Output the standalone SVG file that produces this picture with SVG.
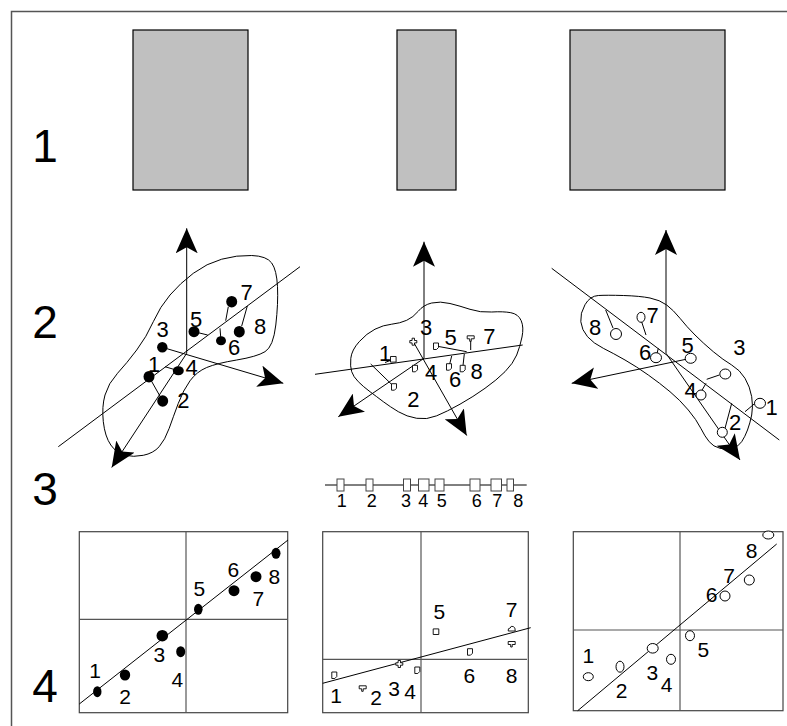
<svg xmlns="http://www.w3.org/2000/svg" width="787" height="726" viewBox="0 0 787 726">
  <style>
    .lbl { font-family: "Liberation Sans", Arial, sans-serif; fill: #000; text-anchor: middle; }
    .row { font-size: 46px; }
    .n2 { font-size: 22px; }
    .n3 { font-size: 18px; }
    .n4 { font-size: 21px; }
    .frame { fill: none; stroke: #555; stroke-width: 1.5; }
    .bar { fill: #c0c0c0; stroke: #000; stroke-width: 1.2; }
    .thin { fill: none; stroke: #000; stroke-width: 1; }
    .axis { fill: none; stroke: #000; stroke-width: 1; marker-end: url(#arr); }
    .blob { fill: none; stroke: #000; stroke-width: 1; }
    .dot { fill: #000; stroke: none; }
    .ring { fill: #fff; stroke: #000; stroke-width: 1; }
    .mk { fill: #fff; stroke: #000; stroke-width: 0.9; }
    .panel { fill: none; stroke: #444; stroke-width: 1.2; }
    .quad { fill: none; stroke: #555; stroke-width: 1.2; }
    .box { fill: #fff; stroke: #444; stroke-width: 1; }
  </style>
  <defs>
    <marker id="arr" viewBox="0 0 25 22" refX="25" refY="11" markerWidth="25" markerHeight="22" markerUnits="userSpaceOnUse" orient="auto">
      <path d="M25,11 L0,0 L6,11 L0,22 Z" fill="#000"/>
    </marker>
    <!-- small outline glyphs used as point symbols in the middle column -->
    <path id="doc" class="mk" d="M-2.5,-3 H2.5 V1.5 L0.5,3.5 H-2.5 Z"/>
    <path id="sq" class="mk" d="M-2.8,-2.8 H2.8 V2.8 H-2.8 Z"/>
    <path id="plus" class="mk" d="M-1.2,-3.5 H1.2 V-1.2 H3.5 V1.2 H1.2 V3.5 H-1.2 V1.2 H-3.5 V-1.2 H-1.2 Z"/>
    <path id="cloud" class="mk" d="M-3.5,2 Q-4,-1 -1.5,-1 Q-1,-3.5 1.5,-2.5 Q4,-1.5 3.5,2 Z"/>
    <path id="flag" class="mk" d="M-3.5,-2.5 H3.5 V0.5 H0.5 V3 H-1 V0.5 H-3.5 Z"/>
  </defs>

  <!-- outer frame -->
  <rect class="frame" x="11.5" y="11.5" width="800" height="740"/>

  <!-- row numbers -->
  <g id="row-labels">
    <text class="lbl row" x="45" y="162">1</text>
    <text class="lbl row" x="45" y="338">2</text>
    <text class="lbl row" x="45" y="505">3</text>
    <text class="lbl row" x="45" y="702">4</text>
  </g>

  <!-- row 1: grey bars -->
  <g id="bar-left"><rect class="bar" x="133" y="30" width="115" height="160"/></g>
  <g id="bar-middle"><rect class="bar" x="397" y="30" width="59" height="160"/></g>
  <g id="bar-right"><rect class="bar" x="570" y="30" width="155" height="160"/></g>

  <!-- row 2, left cloud of filled points -->
  <g id="cloud-left">
    <path class="blob" d="M221.7,259.2 Q236.7,255 251.7,255.5 Q266.7,256 271.7,263 Q276.7,270 277.5,286.7 Q278.3,303.3 275.8,325 Q273.3,346.7 265,351.7 Q256.7,356.7 236.7,360 Q216.7,363.3 206.7,367.5 Q196.7,371.7 190,380.8 Q183.3,390 178.3,403.3 Q173.3,416.7 169.2,428.3 Q165,440 159.2,446.7 Q153.3,453.3 143.3,455.3 Q133.3,457.3 125,455.3 Q116.7,453.3 110.8,445 Q105,436.7 103.3,421.7 Q101.7,406.7 105,395 Q108.3,383.3 117.5,373.3 Q126.7,363.3 136.7,350 Q146.7,336.7 153.3,321.7 Q160,306.7 170,295 Q180,283.3 193.3,273.3 Q206.7,263.3 221.7,259.2 Z"/>
    <g class="connectors">
      <line class="thin" x1="58.3" y1="446.7" x2="300" y2="266.7"/>
      <line class="axis" x1="186.7" y1="353.3" x2="186.7" y2="228.3"/>
      <line class="axis" x1="162.3" y1="347.3" x2="283.3" y2="383.3"/>
      <line class="axis" x1="186.7" y1="353.3" x2="111.7" y2="467.5"/>
      <line class="thin" x1="228.3" y1="306.7" x2="225.7" y2="320.7"/>
      <line class="thin" x1="241.7" y1="326" x2="247.3" y2="306"/>
      <line class="thin" x1="194" y1="331.7" x2="207.7" y2="335"/>
      <line class="thin" x1="221" y1="340.7" x2="220" y2="328.3"/>
      <line class="thin" x1="178.3" y1="370.7" x2="165" y2="366.7"/>
      <line class="thin" x1="149" y1="376.7" x2="162.7" y2="401"/>
    </g>
    <ellipse class="dot" cx="231.7" cy="301.7" rx="5.5" ry="5.8"/>
    <ellipse class="dot" cx="194" cy="331.7" rx="5.5" ry="5.5"/>
    <ellipse class="dot" cx="239.3" cy="331.7" rx="5.5" ry="5.8"/>
    <ellipse class="dot" cx="221" cy="340.7" rx="5" ry="4.5"/>
    <ellipse class="dot" cx="162.3" cy="347.3" rx="5.2" ry="5.2"/>
    <ellipse class="dot" cx="178.3" cy="370.7" rx="5.5" ry="4.5"/>
    <ellipse class="dot" cx="149" cy="376.7" rx="5.5" ry="5.8"/>
    <ellipse class="dot" cx="162.7" cy="401" rx="5.5" ry="5.8"/>
    <text class="lbl n2" x="246.7" y="300">7</text>
    <text class="lbl n2" x="196" y="326.7">5</text>
    <text class="lbl n2" x="260" y="334">8</text>
    <text class="lbl n2" x="234" y="355">6</text>
    <text class="lbl n2" x="162.7" y="336.7">3</text>
    <text class="lbl n2" x="154" y="371.7">1</text>
    <text class="lbl n2" x="191.7" y="375">4</text>
    <text class="lbl n2" x="183.3" y="408.3">2</text>
  </g>

  <!-- row 2, middle cloud of symbol points -->
  <g id="cloud-middle">
    <path class="blob" d="M351.7,371.7 Q350,366.7 350.8,358.3 Q351.7,350 359.2,341.7 Q366.7,333.3 375,329.2 Q383.3,325 391.7,324.2 Q400,323.3 406.7,320.3 Q413.3,317.3 418.3,311.2 Q423.3,305 431.7,303 Q440,301 450,303.5 Q460,306 470,309.3 Q480,312.7 491.7,312 Q503.3,311.3 510.8,312.7 Q518.3,314 521.2,320.7 Q524,327.3 522,337 Q520,346.7 516.7,355 Q513.3,363.3 505,371.7 Q496.7,380 485,388.3 Q473.3,396.7 460,404.2 Q446.7,411.7 436.7,415.8 Q426.7,420 416.7,418.3 Q406.7,416.7 398.3,411.7 Q390,406.7 383.3,401.7 Q376.7,396.7 370,391.7 Q363.3,386.7 358.3,381.7 Q353.3,376.7 351.7,371.7 Z"/>
    <g class="connectors">
      <line class="thin" x1="315" y1="374.3" x2="522.7" y2="345"/>
      <line class="axis" x1="424" y1="358.3" x2="424" y2="241.7"/>
      <line class="axis" x1="413.3" y1="341.7" x2="466.7" y2="435.5"/>
      <line class="axis" x1="424" y1="358.3" x2="338.3" y2="416.7"/>
      <line class="thin" x1="394" y1="386.7" x2="370.7" y2="364"/>
      <line class="thin" x1="393.3" y1="359.3" x2="385" y2="362.5"/>
      <line class="thin" x1="436" y1="346" x2="466.7" y2="351.7"/>
      <line class="thin" x1="470.7" y1="338.3" x2="470.7" y2="350"/>
      <line class="thin" x1="449" y1="366.7" x2="451.7" y2="356"/>
      <line class="thin" x1="462.7" y1="368.3" x2="464.3" y2="354"/>
    </g>
    <use href="#sq" x="393.3" y="359.3"/>
    <use href="#plus" x="413.3" y="341.7"/>
    <use href="#doc" x="436" y="346"/>
    <use href="#flag" x="470.7" y="338.3"/>
    <use href="#doc" x="415" y="368.3"/>
    <use href="#doc" x="394" y="386.7"/>
    <use href="#doc" x="449" y="366.7"/>
    <use href="#doc" x="462.7" y="368.3"/>
    <text class="lbl n2" x="426" y="335">3</text>
    <text class="lbl n2" x="450.7" y="345">5</text>
    <text class="lbl n2" x="489.3" y="344">7</text>
    <text class="lbl n2" x="385" y="360.7">1</text>
    <text class="lbl n2" x="431" y="380">4</text>
    <text class="lbl n2" x="455" y="387.3">6</text>
    <text class="lbl n2" x="476.7" y="379.3">8</text>
    <text class="lbl n2" x="413.3" y="406.7">2</text>
  </g>

  <!-- row 2, right cloud of open points -->
  <g id="cloud-right">
    <path class="blob" d="M580.8,321.7 Q580,313.3 585,304.7 Q590,296 598.3,295.5 Q606.7,295 623.3,295.5 Q640,296 650,298 Q660,300 666.7,305 Q673.3,310 680,318.3 Q686.7,326.7 695,335 Q703.3,343.3 713.3,351.7 Q723.3,360 731.7,365 Q740,370 745,378.3 Q750,386.7 751.7,396.7 Q753.3,406.7 751.7,415 Q750,423.3 747.5,430 Q745,436.7 741.7,441.7 Q738.3,446.7 732.5,448.3 Q726.7,450 720,448.3 Q713.3,446.7 709.2,441.7 Q705,436.7 700.8,428.3 Q696.7,420 688.3,410 Q680,400 670,391.7 Q660,383.3 648.3,375 Q636.7,366.7 625,360 Q613.3,353.3 603.3,348.3 Q593.3,343.3 587.5,336.7 Q581.7,330 580.8,321.7 Z"/>
    <g class="connectors">
      <line class="thin" x1="551.7" y1="268.3" x2="779.3" y2="440"/>
      <line class="axis" x1="666" y1="353.3" x2="666" y2="230"/>
      <line class="axis" x1="690.7" y1="358.3" x2="571.7" y2="383.3"/>
      <line class="axis" x1="666" y1="353.3" x2="740" y2="460"/>
      <line class="thin" x1="613" y1="328" x2="605.7" y2="310"/>
      <line class="thin" x1="641.7" y1="322" x2="646" y2="335"/>
      <line class="thin" x1="656" y1="357.7" x2="658.3" y2="348.3"/>
      <line class="thin" x1="719.3" y1="375" x2="706.7" y2="379.3"/>
      <line class="thin" x1="701.7" y1="390.7" x2="706" y2="383.3"/>
      <line class="thin" x1="755" y1="403.3" x2="745" y2="411.7"/>
      <line class="thin" x1="725" y1="428.3" x2="731.7" y2="403.3"/>
    </g>
    <ellipse class="ring" cx="616" cy="334" rx="5.5" ry="5.5"/>
    <ellipse class="ring" cx="641" cy="317.3" rx="4" ry="5"/>
    <ellipse class="ring" cx="656" cy="357.7" rx="5.5" ry="5"/>
    <ellipse class="ring" cx="690.7" cy="358.3" rx="5.5" ry="5"/>
    <ellipse class="ring" cx="725.3" cy="374" rx="5.5" ry="5"/>
    <ellipse class="ring" cx="701" cy="395" rx="5" ry="5"/>
    <ellipse class="ring" cx="760" cy="403.3" rx="5.5" ry="5"/>
    <ellipse class="ring" cx="722.3" cy="432.3" rx="5" ry="5"/>
    <text class="lbl n2" x="595" y="335">8</text>
    <text class="lbl n2" x="652.7" y="323.3">7</text>
    <text class="lbl n2" x="645" y="360">6</text>
    <text class="lbl n2" x="687.7" y="353.3">5</text>
    <text class="lbl n2" x="739.3" y="355">3</text>
    <text class="lbl n2" x="690.7" y="398.3">4</text>
    <text class="lbl n2" x="771.7" y="415">1</text>
    <text class="lbl n2" x="735" y="430">2</text>
  </g>

  <!-- row 3: ordering strip -->
  <g id="strip">
    <line class="thin" x1="325" y1="485" x2="526.7" y2="485" stroke="#444"/>
    <rect class="box" x="337" y="479" width="7" height="12"/>
    <rect class="box" x="366" y="479" width="7" height="12"/>
    <rect class="box" x="403.5" y="479" width="7" height="12"/>
    <rect class="box" x="418.5" y="479" width="10.5" height="12"/>
    <rect class="box" x="435" y="479" width="9" height="12"/>
    <rect class="box" x="470" y="479" width="10" height="12"/>
    <rect class="box" x="491" y="479" width="10.5" height="12"/>
    <rect class="box" x="507" y="479" width="6.5" height="12"/>
    <text class="lbl n3" x="341.7" y="506.7">1</text>
    <text class="lbl n3" x="371.7" y="506.7">2</text>
    <text class="lbl n3" x="406" y="506.7">3</text>
    <text class="lbl n3" x="423.3" y="506.7">4</text>
    <text class="lbl n3" x="441.7" y="506.7">5</text>
    <text class="lbl n3" x="476.7" y="506.7">6</text>
    <text class="lbl n3" x="497.3" y="506.7">7</text>
    <text class="lbl n3" x="518.3" y="506.7">8</text>
  </g>

  <!-- row 4, left scatter -->
  <g id="scatter-left">
    <rect class="panel" x="79.3" y="531.7" width="208.4" height="181"/>
    <g class="connectors">
      <line class="quad" x1="186" y1="531.7" x2="186" y2="712.7"/>
      <line class="quad" x1="79.3" y1="619.3" x2="287.7" y2="619.3"/>
      <line class="thin" x1="79.3" y1="704" x2="288" y2="540"/>
    </g>
    <ellipse class="dot" cx="97.3" cy="691.7" rx="4.2" ry="5.5"/>
    <ellipse class="dot" cx="125" cy="675" rx="5.2" ry="5.5"/>
    <ellipse class="dot" cx="162.3" cy="635.7" rx="5.8" ry="5.8"/>
    <ellipse class="dot" cx="180.7" cy="651.7" rx="4.5" ry="5.5"/>
    <ellipse class="dot" cx="198.3" cy="609.3" rx="4.3" ry="5.5"/>
    <ellipse class="dot" cx="234" cy="590.7" rx="5.5" ry="5.5"/>
    <ellipse class="dot" cx="256" cy="576.7" rx="5.5" ry="5.5"/>
    <ellipse class="dot" cx="276" cy="553.3" rx="4.5" ry="5.5"/>
    <text class="lbl n4" x="95" y="678">1</text>
    <text class="lbl n4" x="125" y="704">2</text>
    <text class="lbl n4" x="159.3" y="661.7">3</text>
    <text class="lbl n4" x="177.3" y="686.7">4</text>
    <text class="lbl n4" x="199.3" y="596">5</text>
    <text class="lbl n4" x="233.3" y="576.7">6</text>
    <text class="lbl n4" x="258.3" y="606">7</text>
    <text class="lbl n4" x="274.3" y="584">8</text>
  </g>

  <!-- row 4, middle scatter -->
  <g id="scatter-middle">
    <rect class="panel" x="322.7" y="531.7" width="205.6" height="181"/>
    <g class="connectors">
      <line class="quad" x1="421" y1="531.7" x2="421" y2="712.7"/>
      <line class="quad" x1="322.7" y1="659.3" x2="527" y2="659.3"/>
      <line class="thin" x1="322.7" y1="683.3" x2="530.7" y2="627.7"/>
    </g>
    <use href="#doc" x="334.3" y="675"/>
    <use href="#flag" x="362.7" y="688.3"/>
    <use href="#plus" x="399.3" y="664"/>
    <use href="#doc" x="417.3" y="670"/>
    <use href="#sq" x="436" y="631.7"/>
    <use href="#doc" x="470" y="651.7"/>
    <use href="#cloud" x="511.7" y="629"/>
    <use href="#flag" x="511.7" y="644"/>
    <text class="lbl n4" x="336" y="703.3">1</text>
    <text class="lbl n4" x="376" y="705">2</text>
    <text class="lbl n4" x="394" y="696">3</text>
    <text class="lbl n4" x="410" y="699.3">4</text>
    <text class="lbl n4" x="439.3" y="619.3">5</text>
    <text class="lbl n4" x="469.3" y="682.7">6</text>
    <text class="lbl n4" x="511.7" y="616.7">7</text>
    <text class="lbl n4" x="511.7" y="682.7">8</text>
  </g>

  <!-- row 4, right scatter -->
  <g id="scatter-right">
    <rect class="panel" x="573.3" y="531.7" width="209.7" height="179"/>
    <g class="connectors">
      <line class="quad" x1="680" y1="531.7" x2="680" y2="710.7"/>
      <line class="quad" x1="573.3" y1="630" x2="783" y2="630"/>
      <line class="thin" x1="577.7" y1="710.7" x2="776.7" y2="544"/>
    </g>
    <ellipse class="ring" cx="588.3" cy="676.7" rx="5" ry="4"/>
    <ellipse class="ring" cx="620" cy="666.7" rx="4" ry="5.5"/>
    <ellipse class="ring" cx="652.7" cy="648.3" rx="5.5" ry="4.8"/>
    <ellipse class="ring" cx="671" cy="659.3" rx="4.5" ry="5"/>
    <ellipse class="ring" cx="690" cy="635.7" rx="4.5" ry="5"/>
    <ellipse class="ring" cx="725" cy="596" rx="5" ry="5"/>
    <ellipse class="ring" cx="749.3" cy="580" rx="5" ry="5"/>
    <ellipse class="ring" cx="768.3" cy="535" rx="5.5" ry="4"/>
    <text class="lbl n4" x="588.3" y="662.7">1</text>
    <text class="lbl n4" x="621.7" y="697.7">2</text>
    <text class="lbl n4" x="652.3" y="680">3</text>
    <text class="lbl n4" x="666.7" y="691.7">4</text>
    <text class="lbl n4" x="703.3" y="656.7">5</text>
    <text class="lbl n4" x="711.7" y="601.7">6</text>
    <text class="lbl n4" x="729" y="583.3">7</text>
    <text class="lbl n4" x="751.7" y="558.3">8</text>
  </g>
</svg>
